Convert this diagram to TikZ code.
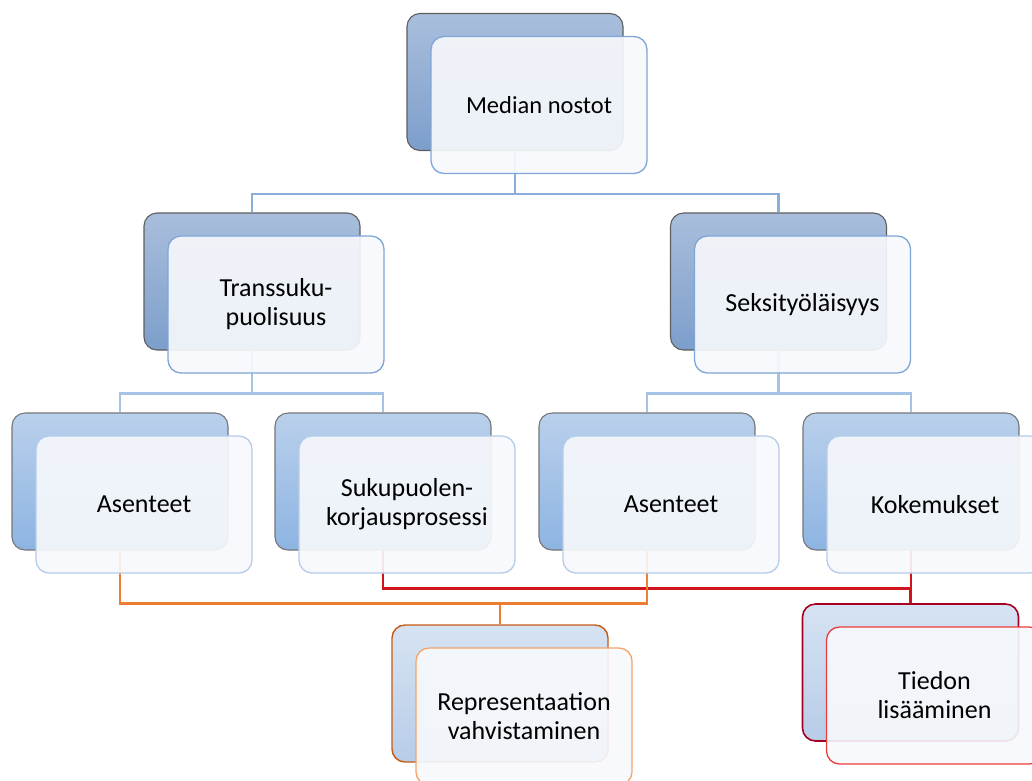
\documentclass[tikz,border=0pt]{standalone}
\usepackage{fontspec}
\setmainfont{Carlito}
\definecolor{bkAtop}{HTML}{A9BEDC}
\definecolor{bkAbot}{HTML}{7D9ECB}
\definecolor{edgeA}{HTML}{5E5E5E}
\definecolor{bkBtop}{HTML}{BAD0EC}
\definecolor{bkBbot}{HTML}{8DB4E2}
\definecolor{edgeB}{HTML}{767676}
\definecolor{bkCtop}{HTML}{D6E3F3}
\definecolor{bkCbot}{HTML}{B8CCE8}
\definecolor{edgeO}{HTML}{C55A11}
\definecolor{edgeR}{HTML}{A50021}
\definecolor{frA}{HTML}{7EA6D8}
\definecolor{frB}{HTML}{B4CCEA}
\definecolor{frO}{HTML}{F4A46A}
\definecolor{frR}{HTML}{EE3B3B}
\definecolor{cnA}{HTML}{88AEDB}
\definecolor{cnB}{HTML}{A6C3E6}
\definecolor{cnO}{HTML}{ED7D31}
\definecolor{cnR}{HTML}{D0141C}
\definecolor{frfill}{HTML}{F7F9FC}
\begin{document}
\begin{tikzpicture}[x=1pt,y=-1pt,
  box/.style={rounded corners=13pt, minimum width=216pt, minimum height=137pt, inner sep=0pt, align=center},
  backA/.style={box, draw=edgeA, line width=1.1pt, top color=bkAtop, bottom color=bkAbot},
  backB/.style={box, draw=edgeB, line width=1.1pt, top color=bkBtop, bottom color=bkBbot},
  backO/.style={box, draw=edgeO, line width=1.4pt, top color=bkCtop, bottom color=bkCbot},
  backR/.style={box, draw=edgeR, line width=1.6pt, top color=bkCtop, bottom color=bkCbot},
  front/.style={box, fill=frfill, fill opacity=0.91, text opacity=1, line width=1.3pt,
    font=\fontsize{26}{29}\selectfont},
  frontA/.style={front, draw=frA},
  frontB/.style={front, draw=frB},
  frontO/.style={front, draw=frO},
  frontR/.style={front, draw=frR},
  connA/.style={draw=cnA, line width=2.2pt},
  connB/.style={draw=cnB, line width=2.2pt},
  connO/.style={draw=cnO, line width=2.4pt},
  connR/.style={draw=cnR, line width=2.4pt}
]
\useasboundingbox (0,0) rectangle (1032,780);
\fill[white] (0,0) rectangle (1032,780);

% back boxes
\node[backA] (m-b) at (515,82) {};
\node[backA] (t-b) at (252,281.5) {};
\node[backA] (s-b) at (778.5,281.5) {};
\node[backB] (a-b) at (120,481.5) {};
\node[backB] (k-b) at (383,481.5) {};
\node[backB] (c-b) at (647,481.5) {};
\node[backB] (d-b) at (911,481.5) {};
\node[backO] (r-b) at (500,693.5) {};
\node[backR] (l-b) at (910.5,672.5) {};

% connectors
\draw[connA] (m-b.south) -- ++(0,43) coordinate (j1);
\draw[connA] (t-b.north) |- (j1) -| (s-b.north);
\draw[connB] (t-b.south) -- ++(0,43) coordinate (j2);
\draw[connB] (a-b.north) |- (j2) -| (k-b.north);
\draw[connB] (s-b.south) -- ++(0,43) coordinate (j3);
\draw[connB] (c-b.north) |- (j3) -| (d-b.north);
\draw[connR] (k-b.south) -- ++(0,38) coordinate (jr) -| (d-b.south);
\draw[connR] (l-b.north) -- (l-b.north |- jr);
\draw[connO] (a-b.south) -- ++(0,53) coordinate (jo) -| (c-b.south);
\draw[connO] (r-b.north) -- (r-b.north |- jo);

% front boxes
\node[frontA, font=\fontsize{24.5}{29}\selectfont] (m) at (539,105) {Median nostot};
\node[frontA] (t) at (276,304.5) {Transsuku-\\puolisuus};
\node[frontA] (s) at (802.5,304.5) {Seksityöläisyys};
\node[frontB] (a) at (144,504.5) {Asenteet};
\node[frontB] (k) at (407,504.5) {Sukupuolen-\\korjausprosessi};
\node[frontB] (c) at (671,504.5) {Asenteet};
\node[frontB] (d) at (935,504.5) {Kokemukset};
\node[frontO] (r) at (524,716.5) {Representaation\\vahvistaminen};
\node[frontR] (l) at (934.5,695.5) {Tiedon\\lisääminen};
\end{tikzpicture}
\end{document}
